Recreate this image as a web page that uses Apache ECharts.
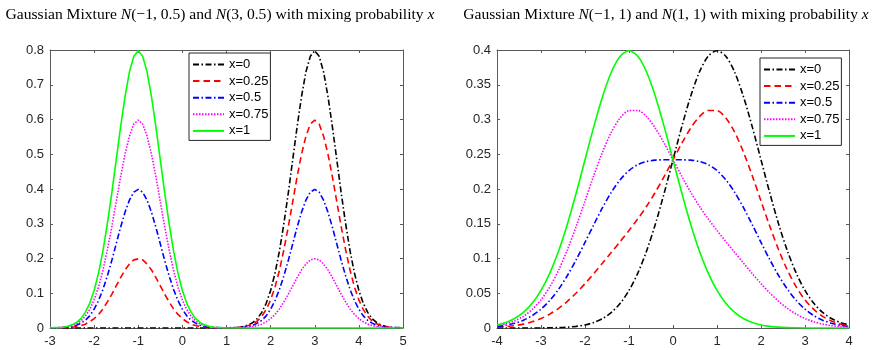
<!DOCTYPE html>
<html>
<head>
<meta charset="utf-8">
<script src="https://cdn.jsdelivr.net/npm/echarts@6/dist/echarts.min.js"></script>
<style>html,body{margin:0;padding:0;background:#fff;}#c{width:874px;height:350px;}</style>
</head>
<body>
<div id="c"></div>
<script>
// ---------- data ----------
var seriesNames = ['x=0', 'x=0.25', 'x=0.5', 'x=0.75', 'x=1'];

// left panel: N(-1,0.5) and N(3,0.5)
var xLeft = [-3,-2.9,-2.8,-2.7,-2.6,-2.5,-2.4,-2.3,-2.2,-2.1,
  -2,-1.9,-1.8,-1.7,-1.6,-1.5,-1.4,-1.3,-1.2,-1.1,
  -1,-0.9,-0.8,-0.7,-0.6,-0.5,-0.4,-0.3,-0.2,-0.1,
  0,0.1,0.2,0.3,0.4,0.5,0.6,0.7,0.8,0.9,
  1,1.1,1.2,1.3,1.4,1.5,1.6,1.7,1.8,1.9,
  2,2.1,2.2,2.3,2.4,2.5,2.6,2.7,2.8,2.9,
  3,3.1,3.2,3.3,3.4,3.5,3.6,3.7,3.8,3.9,
  4,4.1,4.2,4.3,4.4,4.5,4.6,4.7,4.8,4.9,
  5];
var left_x0 = [0,0,0,0,0,0,0,0,0,0,
  0,0,0,0,0,0,0,0,0,0,
  0,0,0,0,0,0,0,0,0,0,
  0,0,0,0,0,0,0,0,0,0,
  0,.001,.001,.002,.005,.009,.016,.027,.045,.071,
  .108,.158,.222,.300,.388,.484,.579,.666,.737,.782,
  .798,.782,.737,.666,.579,.484,.388,.300,.222,.158,
  .108,.071,.045,.027,.016,.009,.005,.002,.001,.001,
  0];
var left_x025 = [0,0,0,.001,.001,.002,.004,.007,.011,.018,
  .027,.039,.055,.075,.097,.121,.145,.167,.184,.196,
  .199,.196,.184,.167,.145,.121,.097,.075,.055,.039,
  .027,.018,.011,.007,.004,.002,.001,.001,0,0,
  0,0,.001,.002,.004,.007,.012,.020,.034,.053,
  .081,.118,.166,.225,.291,.363,.435,.500,.552,.587,
  .598,.587,.552,.500,.435,.363,.291,.225,.166,.118,
  .081,.053,.034,.020,.012,.007,.004,.002,.001,0,
  0];
var left_x05 = [0,0,.001,.001,.002,.004,.008,.014,.022,.035,
  .054,.079,.111,.150,.194,.242,.290,.333,.368,.391,
  .399,.391,.368,.333,.290,.242,.194,.150,.111,.079,
  .054,.035,.022,.014,.008,.004,.002,.001,.001,0,
  0,0,.001,.001,.002,.004,.008,.014,.022,.035,
  .054,.079,.111,.150,.194,.242,.290,.333,.368,.391,
  .399,.391,.368,.333,.290,.242,.194,.150,.111,.079,
  .054,.035,.022,.014,.008,.004,.002,.001,.001,0,
  0];
var left_x075 = [0,0,.001,.002,.004,.007,.012,.020,.034,.053,
  .081,.118,.166,.225,.291,.363,.435,.500,.552,.587,
  .598,.587,.552,.500,.435,.363,.291,.225,.166,.118,
  .081,.053,.034,.020,.012,.007,.004,.002,.001,0,
  0,0,0,.001,.001,.002,.004,.007,.011,.018,
  .027,.039,.055,.075,.097,.121,.145,.167,.184,.196,
  .199,.196,.184,.167,.145,.121,.097,.075,.055,.039,
  .027,.018,.011,.007,.004,.002,.001,.001,0,0,
  0];
var left_x1 = [0,.001,.001,.002,.005,.009,.016,.027,.045,.071,
  .108,.158,.222,.300,.388,.484,.579,.666,.737,.782,
  .798,.782,.737,.666,.579,.484,.388,.300,.222,.158,
  .108,.071,.045,.027,.016,.009,.005,.002,.001,.001,
  0,0,0,0,0,0,0,0,0,0,
  0,0,0,0,0,0,0,0,0,0,
  0,0,0,0,0,0,0,0,0,0,
  0,0,0,0,0,0,0,0,0,0,
  0];

// right panel: N(-1,1) and N(1,1)
var xRight = [-4,-3.8,-3.6,-3.4,-3.2,-3,-2.8,-2.6,-2.4,-2.2,
  -2,-1.8,-1.6,-1.4,-1.2,-1,-0.8,-0.6,-0.4,-0.2,
  0,0.2,0.4,0.6,0.8,1,1.2,1.4,1.6,1.8,
  2,2.2,2.4,2.6,2.8,3,3.2,3.4,3.6,3.8,
  4];
var right_x0 = [0,0,0,0,.0001,.0001,.0003,.0006,.0012,.0024,
  .0044,.0079,.0136,.0224,.0355,.0540,.0790,.1109,.1497,.1942,
  .2420,.2897,.3332,.3683,.3910,.3989,.3910,.3683,.3332,.2897,
  .2420,.1942,.1497,.1109,.0790,.0540,.0355,.0224,.0136,.0079,
  .0044];
var right_x025 = [.0011,.0020,.0034,.0056,.0089,.0136,.0200,.0282,.0384,.0503,
  .0638,.0783,.0935,.1089,.1244,.1403,.1570,.1752,.1956,.2181,
  .2420,.2658,.2873,.3040,.3130,.3127,.3022,.2819,.2533,.2193,
  .1826,.1463,.1126,.0833,.0593,.0405,.0267,.0168,.0102,.0059,
  .0033];
var right_x05 = [.0022,.0040,.0068,.0112,.0178,.0271,.0397,.0558,.0755,.0983,
  .1232,.1488,.1734,.1954,.2133,.2265,.2350,.2396,.2415,.2420,
  .2420,.2420,.2415,.2396,.2350,.2265,.2133,.1954,.1734,.1488,
  .1232,.0983,.0755,.0558,.0397,.0271,.0178,.0112,.0068,.0040,
  .0022];
var right_x075 = [.0033,.0059,.0102,.0168,.0267,.0405,.0593,.0833,.1126,.1463,
  .1826,.2193,.2533,.2819,.3022,.3127,.3130,.3040,.2873,.2658,
  .2420,.2181,.1956,.1752,.1570,.1403,.1244,.1089,.0935,.0783,
  .0638,.0503,.0384,.0282,.0200,.0136,.0089,.0056,.0034,.0020,
  .0011];
var right_x1 = [.0044,.0079,.0136,.0224,.0355,.0540,.0790,.1109,.1497,.1942,
  .2420,.2897,.3332,.3683,.3910,.3989,.3910,.3683,.3332,.2897,
  .2420,.1942,.1497,.1109,.0790,.0540,.0355,.0224,.0136,.0079,
  .0044,.0024,.0012,.0006,.0003,.0001,.0001,0,0,0,
  0];

var leftYs = [left_x0, left_x025, left_x05, left_x075, left_x1];
var rightYs = [right_x0, right_x025, right_x05, right_x075, right_x1];

// ---------- styles ----------
var colors = ['#000000', '#ff0000', '#0000ff', '#ff00ff', '#00ff00'];
var dashes = [[6, 2.5, 1.5, 2.5], [6.5, 4], [6, 2.5, 1.5, 2.5], [1.5, 1.5], 'solid'];
var axisColor = '#5a5a5a';
var labelFont = 'Liberation Sans';

function pairs(xs, ys) {
  var out = [];
  for (var i = 0; i < xs.length; i++) out.push([xs[i], ys[i]]);
  return out;
}

function makeX(grid, min, max, pos, showLabel) {
  return {
    type: 'value', gridIndex: grid, min: min, max: max, interval: 1, position: pos,
    axisLine: { show: true, onZero: false, lineStyle: { color: axisColor, width: 1 } },
    axisTick: { show: true, inside: true, length: 3, lineStyle: { color: axisColor } },
    axisLabel: { show: showLabel, margin: 7, color: '#262626', fontFamily: labelFont, fontSize: 13 },
    splitLine: { show: false }
  };
}
function makeY(grid, max, interval, pos, showLabel) {
  return {
    type: 'value', gridIndex: grid, min: 0, max: max, interval: interval, position: pos,
    axisLine: { show: true, onZero: false, lineStyle: { color: axisColor, width: 1 } },
    axisTick: { show: true, inside: true, length: 3, lineStyle: { color: axisColor } },
    axisLabel: { show: showLabel, margin: 6, color: '#262626', fontFamily: labelFont, fontSize: 13 },
    splitLine: { show: false }
  };
}

var series = [];
for (var k = 0; k < 5; k++) {
  series.push({
    name: seriesNames[k], type: 'line', xAxisIndex: 0, yAxisIndex: 0,
    data: pairs(xLeft, leftYs[k]), symbol: 'none', showSymbol: false,
    lineStyle: { color: colors[k], width: 1.6, type: dashes[k] },
    itemStyle: { color: colors[k] }, z: 2 + k
  });
}
for (var k2 = 0; k2 < 5; k2++) {
  series.push({
    name: seriesNames[k2], type: 'line', xAxisIndex: 2, yAxisIndex: 2,
    data: pairs(xRight, rightYs[k2]), symbol: 'none', showSymbol: false, smooth: 0.3,
    lineStyle: { color: colors[k2], width: 1.6, type: dashes[k2] },
    itemStyle: { color: colors[k2] }, z: 2 + k2
  });
}

function makeLegend(left, top) {
  return {
    data: seriesNames, orient: 'vertical', left: left, top: top,
    backgroundColor: '#ffffff', borderColor: '#262626', borderWidth: 1,
    padding: [5, 2, 3, 3], itemWidth: 31, itemHeight: 14, itemGap: 3.6,
    selectedMode: false,
    itemStyle: { opacity: 0 },
    lineStyle: { width: 2 },
    textStyle: { fontFamily: labelFont, fontSize: 13, color: '#000' },
    z: 20
  };
}

var serif = 'Liberation Serif';
var titleRich = {
  r: { fontFamily: serif, fontSize: 15.6, fill: '#000', color: '#000' },
  i: { fontFamily: serif, fontSize: 15.6, fontStyle: 'italic', fill: '#000', color: '#000' }
};

var chart = echarts.init(document.getElementById('c'), null, { renderer: 'canvas' });
chart.setOption({
  animation: false,
  backgroundColor: '#ffffff',
  grid: [
    { left: 50, top: 50, width: 353, height: 278, outerBoundsMode: 'none' },
    { left: 497, top: 50, width: 352, height: 278, outerBoundsMode: 'none' }
  ],
  xAxis: [
    makeX(0, -3, 5, 'bottom', true), makeX(0, -3, 5, 'top', false),
    makeX(1, -4, 4, 'bottom', true), makeX(1, -4, 4, 'top', false)
  ],
  yAxis: [
    makeY(0, 0.8, 0.1, 'left', true), makeY(0, 0.8, 0.1, 'right', false),
    makeY(1, 0.4, 0.05, 'left', true), makeY(1, 0.4, 0.05, 'right', false)
  ],
  legend: [makeLegend(189, 53), makeLegend(760, 58)],
  graphic: [
    { type: 'text', x: 220, y: 15, z: 30, style: {
        text: '{r|Gaussian Mixture }{i|N}{r|(\u22121, 0.5) and }{i|N}{r|(3, 0.5) with mixing probability }{i|x}',
        align: 'center', verticalAlign: 'middle', rich: titleRich } },
    { type: 'text', x: 666, y: 15, z: 30, style: {
        text: '{r|Gaussian Mixture }{i|N}{r|(\u22121, 1) and }{i|N}{r|(1, 1) with mixing probability }{i|x}',
        align: 'center', verticalAlign: 'middle', rich: titleRich } }
  ],
  series: series
});
</script>
</body>
</html>
